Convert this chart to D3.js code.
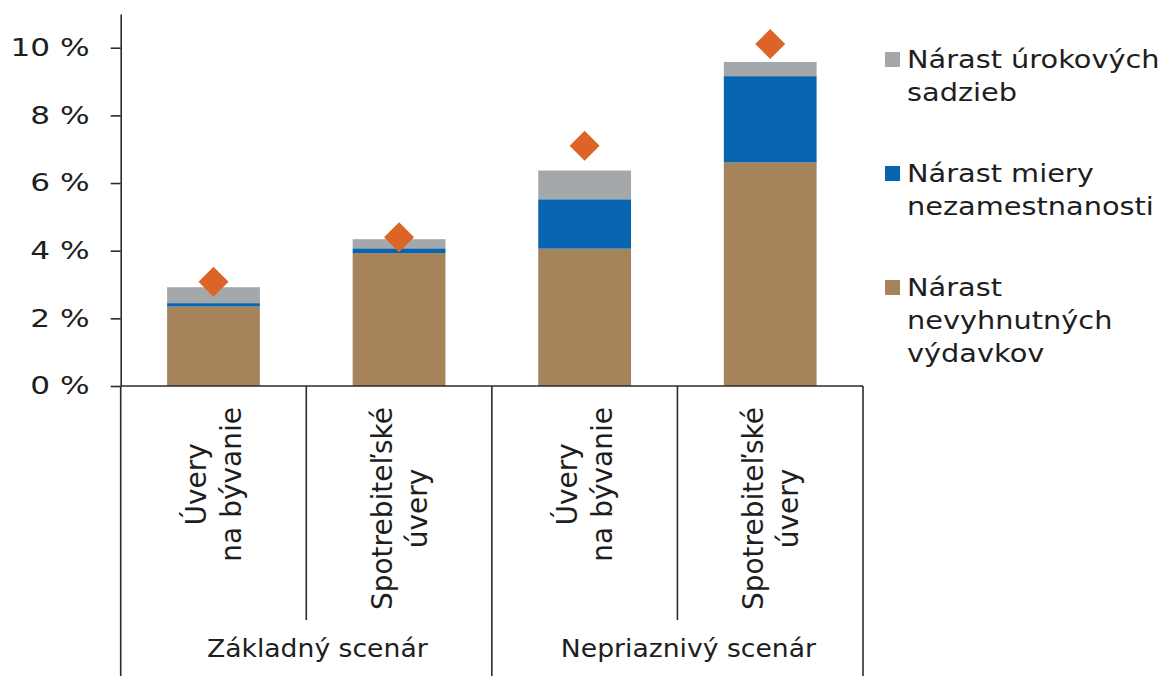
<!DOCTYPE html>
<html>
<head>
<meta charset="utf-8">
<script src="https://cdn.jsdelivr.net/npm/d3@7"></script>
<style>
  html, body { margin: 0; padding: 0; background: #ffffff; }
  svg { display: block; font-family: "DejaVu Sans", Verdana, sans-serif; }
</style>
</head>
<body>
<svg id="chart" width="1171" height="676"></svg>
<script>
// Category labels (two lines each) and scenario groups
const categoryLines = [
  ["Úvery", "na bývanie"],
  ["Spotrebiteľské", "úvery"],
  ["Úvery", "na bývanie"],
  ["Spotrebiteľské", "úvery"]
];
const groups = ["Základný scenár", "Nepriaznivý scenár"];
const groupSize = 2;

// Stacked components (percentage points)
const essentialExpenses = [2.35, 3.93, 4.06, 6.61];
const unemploymentRise = [0.10, 0.14, 1.46, 2.55];
const interestRateRise = [0.47, 0.27, 0.85, 0.42];
// Overall impact marker
const totalImpact = [3.08, 4.40, 7.10, 10.11];

const seriesNames = [
  ["Nárast", "nevyhnutných", "výdavkov"],
  ["Nárast miery", "nezamestnanosti"],
  ["Nárast úrokových", "sadzieb"]
];
const seriesColors = ["#a5845b", "#0864ae", "#a5a8ab"];
const markerColor = "#dc6427";

const yTicks = [0, 2, 4, 6, 8, 10];
const yMax = 11;

const svg = d3.select("#chart");
const axisColor = "#2b2b2b";
const textColor = "#1e1e1e";

const left = 120.7, right = 863, baseY = 386, topY = 13.9, bottomY = 676;

const y = d3.scaleLinear().domain([0, yMax]).range([baseY, topY]);
const x = d3.scaleBand()
  .domain(d3.range(categoryLines.length))
  .range([left, right])
  .paddingInner(0.5)
  .paddingOuter(0.25);
const step = x.step();

// Stack the three components
const table = d3.range(categoryLines.length).map(i => ({
  i,
  s0: essentialExpenses[i],
  s1: unemploymentRise[i],
  s2: interestRateRise[i]
}));
const stack = d3.stack().keys(["s0", "s1", "s2"]);
const stacked = stack(table);

svg.append("g")
  .selectAll("g")
  .data(stacked)
  .join("g")
  .attr("fill", (d, k) => seriesColors[k])
  .selectAll("rect")
  .data(d => d)
  .join("rect")
  .attr("x", d => x(d.data.i))
  .attr("width", x.bandwidth())
  .attr("y", d => y(d[1]))
  .attr("height", d => y(d[0]) - y(d[1]));

// Diamond markers
const diamond = d3.symbol().type(d3.symbolSquare).size(450);
svg.append("g")
  .selectAll("path")
  .data(totalImpact)
  .join("path")
  .attr("d", diamond)
  .attr("fill", markerColor)
  .attr("transform", (d, i) => `translate(${x(i) + x.bandwidth() / 2},${y(d)}) rotate(45)`);

// Y axis
const yAxis = d3.axisLeft(y)
  .tickValues(yTicks)
  .tickSize(10)
  .tickSizeOuter(0)
  .tickFormat(d => d + " %");
const gy = svg.append("g")
  .attr("transform", `translate(${left},0)`)
  .call(yAxis);
gy.select(".domain").attr("stroke", axisColor).attr("stroke-width", 1.6);
gy.selectAll(".tick line").attr("stroke", axisColor).attr("stroke-width", 1.6);
gy.selectAll(".tick text")
  .attr("x", null)
  .attr("dy", "0.33em")
  .attr("fill", textColor)
  .attr("font-size", 24)
  .attr("font-family", "DejaVu Sans, Verdana, sans-serif")
  .attr("text-anchor", "end")
  .attr("transform", "translate(-31,0) scale(1.3,1)");

// Category table lines below the plot
const lines = svg.append("g").attr("stroke", axisColor).attr("stroke-width", 1.6);
lines.append("line").attr("x1", left).attr("x2", right).attr("y1", baseY).attr("y2", baseY);
lines.append("line").attr("x1", left).attr("x2", left).attr("y1", baseY).attr("y2", bottomY);
for (let g = 1; g <= groups.length; g++) {
  const xb = left + g * groupSize * step;
  lines.append("line").attr("x1", xb).attr("x2", xb).attr("y1", baseY).attr("y2", bottomY);
}
for (let g = 0; g < groups.length; g++) {
  for (let k = 1; k < groupSize; k++) {
    const xb = left + (g * groupSize + k) * step;
    lines.append("line").attr("x1", xb).attr("x2", xb).attr("y1", baseY).attr("y2", 620);
  }
}

// Rotated category labels
const catFont = 28, capH = 0.73 * catFont, lineH = 35, labelTop = 407;
const catG = svg.append("g").attr("fill", textColor).attr("font-size", catFont);
categoryLines.forEach((ls, i) => {
  const cx = x(i) + x.bandwidth() / 2;
  const blockH = capH + lineH * (ls.length - 1);
  const nodes = ls.map(t => catG.append("text").attr("text-anchor", "middle").text(t));
  const maxLen = d3.max(nodes, n => n.node().getComputedTextLength());
  const cy = labelTop + maxLen / 2;
  nodes.forEach((n, j) => {
    const bx = cx - blockH / 2 + capH + j * lineH;
    n.attr("transform", `translate(${bx},${cy}) rotate(-90)`);
  });
});

// Scenario group labels
svg.append("g")
  .selectAll("text")
  .data(groups)
  .join("text")
  .attr("fill", textColor)
  .attr("font-size", 24)
  .attr("text-anchor", "middle")
  .attr("transform", (d, g) => `translate(${left + (g + 0.5) * groupSize * step + 11},657) scale(1.11,1)`)
  .text(d => d);

// Legend (top to bottom: interest rates, unemployment, expenses)
const legendOrder = [2, 1, 0];
const legendBase = [68, 182, 296];
const legendLineH = 33;
const lg = svg.append("g");
legendOrder.forEach((k, r) => {
  const by = legendBase[r];
  lg.append("rect")
    .attr("x", 885).attr("y", by - 16)
    .attr("width", 15).attr("height", 15)
    .attr("fill", seriesColors[k]);
  seriesNames[k].forEach((t, j) => {
    lg.append("text")
      .attr("fill", textColor)
      .attr("font-size", 24)
      .attr("transform", `translate(907,${by + j * legendLineH}) scale(1.2,1)`)
      .text(t);
  });
});
</script>
</body>
</html>
